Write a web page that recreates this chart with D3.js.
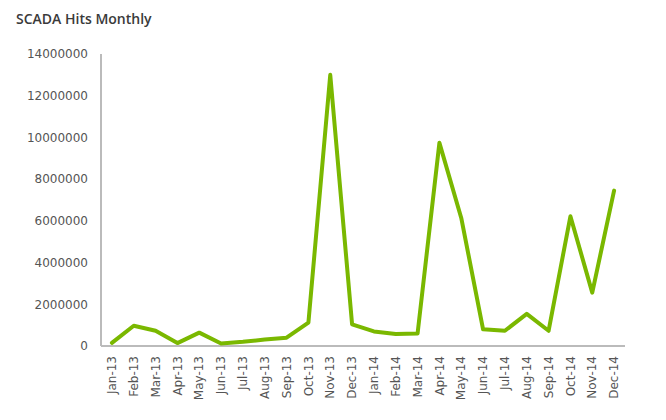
<!DOCTYPE html>
<html>
<head>
<meta charset="utf-8">
<script src="https://cdnjs.cloudflare.com/ajax/libs/d3/7.8.5/d3.min.js"></script>
<style>
  body { margin: 0; background: #fff; }
</style>
</head>
<body>
<script>
// Month labels and monthly hit counts
var months = ["Jan-13","Feb-13","Mar-13","Apr-13","May-13","Jun-13","Jul-13","Aug-13","Sep-13","Oct-13","Nov-13","Dec-13",
              "Jan-14","Feb-14","Mar-14","Apr-14","May-14","Jun-14","Jul-14","Aug-14","Sep-14","Oct-14","Nov-14","Dec-14"];
var hits = [150000, 970000, 730000, 140000, 640000, 120000, 200000, 310000, 400000, 1120000, 13000000, 1040000,
            700000, 580000, 600000, 9740000, 6140000, 800000, 730000, 1540000, 730000, 6220000, 2560000, 7450000];
var yTicks = [0, 2000000, 4000000, 6000000, 8000000, 10000000, 12000000, 14000000];

var W = 666, H = 420;
var margin = { top: 54, right: 41, bottom: 74, left: 101 },
    width = W - margin.left - margin.right,
    height = H - margin.top - margin.bottom;

var svg = d3.select("body").append("svg")
  .attr("width", W)
  .attr("height", H);

// title
svg.append("text")
  .attr("x", 16)
  .attr("y", 24)
  .style("font-family", "'Open Sans', 'DejaVu Sans', sans-serif")
  .style("font-size", "14px")
  .style("font-weight", "600")
  .style("fill", "#3a3a3a")
  .text("SCADA Hits Monthly");

var g = svg.append("g")
  .attr("transform", "translate(" + margin.left + "," + margin.top + ")");

var x = d3.scaleBand().domain(months).range([0, width]);
var y = d3.scaleLinear().domain([0, 14000000]).range([height, 0]);

// y axis
var yAxis = g.append("g")
  .call(d3.axisLeft(y).tickValues(yTicks).tickSize(0).tickPadding(13).tickFormat(d3.format("d")));
yAxis.select(".domain").attr("d", "M0,0V" + height).attr("stroke", "#bbb").attr("stroke-width", 2);

// x axis
var xAxis = g.append("g")
  .attr("transform", "translate(0," + height + ")")
  .call(d3.axisBottom(x).tickSize(0).tickPadding(0));
xAxis.select(".domain").attr("d", "M0,0H" + width).attr("stroke", "#bbb").attr("stroke-width", 2);
xAxis.selectAll("text")
  .attr("transform", "rotate(-90)")
  .attr("x", -10)
  .attr("y", 0)
  .attr("dy", "0.35em")
  .style("text-anchor", "end");

[xAxis, yAxis].forEach(function (a) {
  a.attr("font-family", "'DejaVu Sans', Verdana, sans-serif").attr("font-size", 12);
  a.selectAll("text").attr("fill", "#555");
});

// line
var line = d3.line()
  .x(function (d, i) { return x(months[i]) + x.bandwidth() / 2; })
  .y(function (d) { return y(d); });

g.append("path")
  .datum(hits)
  .attr("fill", "none")
  .attr("stroke", "#7ab800")
  .attr("stroke-width", 4)
  .attr("stroke-linejoin", "round")
  .attr("stroke-linecap", "round")
  .attr("d", line);
</script>
</body>
</html>
